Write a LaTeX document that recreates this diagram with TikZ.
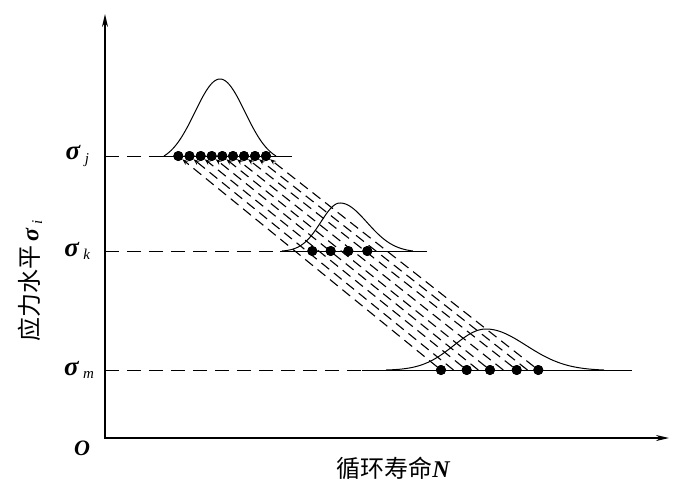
\documentclass[tikz,border=0pt]{standalone}
\usepackage{fontspec}
\setmainfont{Liberation Serif}
\newfontfamily\cjk{Noto Sans CJK SC}
\usetikzlibrary{arrows.meta}
\tikzset{
  axisline/.style={line width=1.8pt},
  curveline/.style={line width=1pt},
  baseline/.style={line width=1pt},
  basedash/.style={line width=1pt, dash pattern=on 14pt off 8pt},
  diagline/.style={line width=1.1pt, dash pattern=on 10pt off 6pt, -{Stealth[length=6pt,width=4.5pt]}},
  dotnode/.style={circle, fill=black, inner sep=0pt, minimum size=10pt},
  siglabel/.style={anchor=east, font=\fontsize{27}{30}\selectfont\bfseries\itshape},
}
\newcommand{\subsc}[1]{\,\textsubscript{\fontsize{15}{16}\selectfont\normalfont\itshape #1}}
\begin{document}
\begin{tikzpicture}[x=1pt,y=-1pt]
\useasboundingbox (0,0) rectangle (700,490);
% axes
\coordinate (O) at (105,438);
\coordinate (ytop) at (105,14);
\coordinate (xend) at (669,438);
\draw[axisline,{Stealth[length=13pt,width=6pt]}-{Stealth[length=13pt,width=6pt]}] (ytop) -- (O) -- (xend);
% baselines
\coordinate (ja) at (105,156); \coordinate (jb) at (163,156); \coordinate (jc) at (292,156);
\coordinate (ka) at (105,251); \coordinate (kb) at (280,251); \coordinate (kc) at (427,251);
\coordinate (ma) at (105,370); \coordinate (mb) at (362,370); \coordinate (mc) at (632,370);
\draw[basedash] (ja) -- (jb); \draw[baseline] (jb) -- (jc);
\draw[basedash] (ka) -- (kb); \draw[baseline] (kb) -- (kc);
\draw[basedash] (ma) -- (mb); \draw[baseline] (mb) -- (mc);
% distribution curves
\draw[curveline] plot[domain=-56:56,samples=80] ({220+\x},{156-77*(exp(-((\x)*(\x))/1250)-0.0813)/0.9187});
\draw[curveline] plot[domain=-58:0,samples=50] ({340+\x},{251-48*(exp(-((\x)*(\x))/737)-0.0104)/0.9896})
  -- plot[domain=0:73,samples=50] ({340+\x},{251-48*(exp(-((\x)*(\x))/1458)-0.0259)/0.9741});
\draw[curveline] plot[domain=-100:0,samples=60] ({486+\x},{370-41*(exp(-((\x)*(\x))/2048)-0.0076)/0.9924})
  -- plot[domain=0:118,samples=60] ({486+\x},{370-41*(exp(-((\x)*(\x))/3200)-0.0129)/0.9871});
% dots
\foreach \x [count=\i] in {178.3,189.5,200.7,211.7,222.3,233,244,255,266}
  \node[dotnode] (j\i) at (\x,156) {};
\foreach \x [count=\i] in {312.3,330.7,348.3,367.3}
  \node[dotnode] (k\i) at (\x,251) {};
\foreach \x [count=\i] in {441,466.7,490,516.7,538.3}
  \node[dotnode] (m\i) at (\x,370) {};
\coordinate (e2) at (453.5,370);
\coordinate (e4) at (478.3,370);
\coordinate (e6) at (503.3,370);
\coordinate (e8) at (527.5,370);
% dashed connectors
\foreach \a/\b in {m1/j1,e2/j2,m2/j3,e4/j4,m3/j5,e6/j6,m4/j7,e8/j8,m5/j9}
  \draw[diagline] (\a) -- (\b);
% redraw dots on top
\foreach \i in {1,...,9} \fill (j\i) circle (5pt);
\foreach \i in {1,...,4} \fill (k\i) circle (5pt);
\foreach \i in {1,...,5} \fill (m\i) circle (5pt);
% labels
\node[siglabel] (lj) at (93,156) {σ\subsc{j}};
\node[siglabel] (lk) at (94,251) {σ\subsc{k}};
\node[siglabel] (lm) at (98,370) {σ\subsc{m}};
\node[font=\fontsize{22}{24}\selectfont\bfseries\itshape] (lo) at (82,448) {O};
\node (xl) at (393,468) {\fontsize{24}{26}\selectfont\cjk 循环寿命{\rmfamily\bfseries\itshape N}};
\node[rotate=90] (yl) at (30,281) {\fontsize{24}{26}\selectfont\cjk 应力水平\,{\rmfamily\bfseries\itshape σ\subsc{i}}};
\end{tikzpicture}
\end{document}
